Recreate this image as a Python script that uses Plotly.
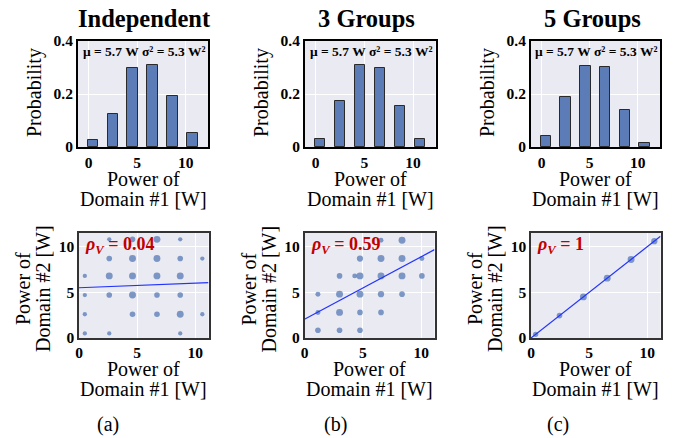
import plotly.graph_objects as go

# ---------------- data ----------------
panel_titles = ["Independent", "3 Groups", "5 Groups"]
panel_tags = ["(a)", "(b)", "(c)"]

bar_power = [0.45, 2.5, 4.55, 6.6, 8.65, 10.7]
prob_indep = [0.025, 0.123, 0.299, 0.309, 0.194, 0.052]
prob_3grp = [0.031, 0.175, 0.310, 0.299, 0.154, 0.031]
prob_5grp = [0.040, 0.187, 0.306, 0.301, 0.140, 0.016]
stats_text = "μ = 5.7 W σ² = 5.3 W²"

# joint samples (x = domain #1 power, y = domain #2 power, count = relative frequency)
a_x = [2.6, 4.6, 6.7, 8.7,
       2.6, 4.6, 6.7, 8.7, 10.6,
       0.5, 2.6, 4.6, 6.7, 8.7,
       0.5, 2.6, 4.6, 6.7, 8.7,
       0.5, 4.6, 6.7, 8.7, 10.6,
       0.5, 2.6, 8.7]
a_y = [10.8, 10.8, 10.8, 10.8,
       8.7, 8.7, 8.7, 8.7, 8.7,
       6.8, 6.8, 6.8, 6.8, 6.8,
       4.7, 4.7, 4.7, 4.7, 4.7,
       2.6, 2.6, 2.6, 2.6, 2.6,
       0.5, 0.5, 0.5]
a_count = [1, 2, 3, 1,
           2, 3, 3, 2, 1,
           1, 3, 3, 3, 3,
           1, 2, 3, 2, 2,
           1, 2, 2, 3, 1,
           1, 1, 1]

b_x = [6.55, 8.35,
       4.75, 6.55, 8.35, 10.05,
       3.0, 4.3, 4.75, 6.55, 8.35, 10.05,
       1.15, 3.0, 4.75, 6.55, 8.35,
       1.15, 3.0, 4.75, 6.55,
       1.15, 3.0, 4.75]
b_y = [10.7, 10.7,
       8.7, 8.7, 8.7, 8.7,
       6.8, 6.8, 6.8, 6.8, 6.8, 6.8,
       4.8, 4.8, 4.8, 4.8, 4.8,
       2.8, 2.8, 2.8, 2.8,
       0.85, 0.85, 0.85]
b_count = [1.5, 3,
           2.5, 3, 3, 1.5,
           2, 1.5, 3, 3, 3, 2,
           1.5, 3, 3, 2.5, 2,
           1.5, 3, 2, 2,
           2, 2, 2]

c_x = [0.4, 2.45, 4.5, 6.55, 8.6, 10.6]
c_y = [0.4, 2.45, 4.5, 6.55, 8.6, 10.6]
c_count = [1.8, 2, 3, 3, 3, 2.5]

rho_text = ["0.04", "0.59", "1"]
fit_intercept = [5.5, 2.05, 0.0]
fit_slope = [0.05, 0.685, 1.0]

# ---------------- layout helpers ----------------
W, H = 682, 438
def px(x):
    return x / W
def py(y):
    return 1 - y / H

FONT = "Liberation Serif, DejaVu Serif, serif"
BG = "#eaeaf2"
BAR = "#5b7cb7"
DOT = "#4c72b0"

top_cols = [(78, 208), (305, 435.5), (531, 660)]
bot_cols = [(79, 208.5), (304.5, 434.5), (531, 660.5)]
top_rows = (41, 147)
bot_rows = (232.5, 338)

fig = go.Figure()
layout = {}

probs = [prob_indep, prob_3grp, prob_5grp]
scat = [(a_x, a_y, a_count), (b_x, b_y, b_count), (c_x, c_y, c_count)]

x_rng_bot = [0, 11.13]
y_rng_bot = [0, 11.55]

tickfont = dict(family=FONT, size=15.5, color="black", weight="bold")
common = dict(showgrid=True, gridcolor="white", gridwidth=1, zeroline=False,
              showline=True, mirror=True, ticks="", ticklen=0, tickfont=tickfont,
              automargin=False)

for i in range(3):
    # top histogram axes
    k = 2 * i + 1
    sfx = str(k) if k > 1 else ""
    xa, ya, xr, yr = "xaxis" + sfx, "yaxis" + sfx, "x" + sfx, "y" + sfx
    l, r = top_cols[i]
    layout[xa] = dict(domain=[px(l), px(r)], anchor=yr, range=[-1.1, 12.3],
                      tickvals=[0, 5, 10], ticktext=["0", "5", "10"],
                      linecolor="black", linewidth=2, **common)
    layout[ya] = dict(domain=[py(top_rows[1]), py(top_rows[0])], anchor=xr, range=[0, 0.4],
                      tickvals=[0, 0.2, 0.4], ticktext=["0", "0.2", "0.4"],
                      linecolor="black", linewidth=2, **common)
    fig.add_trace(go.Bar(x=bar_power, y=probs[i], width=1.1, xaxis=xr, yaxis=yr,
                         marker=dict(color=BAR, line=dict(color="#2a2a2a", width=1))))

    # bottom scatter axes
    n = 2 * i + 2
    xa2, ya2, xr2, yr2 = f"xaxis{n}", f"yaxis{n}", f"x{n}", f"y{n}"
    l, r = bot_cols[i]
    layout[xa2] = dict(domain=[px(l), px(r)], anchor=yr2, range=x_rng_bot,
                       tickvals=[0, 5, 10], linecolor="#333333", linewidth=1.5, **common)
    layout[ya2] = dict(domain=[py(bot_rows[1]), py(bot_rows[0])], anchor=xr2, range=y_rng_bot,
                       tickvals=[0, 5, 10], linecolor="#333333", linewidth=1.5, **common)
    sx, sy, sc = scat[i]
    fig.add_trace(go.Scatter(x=sx, y=sy, mode="markers", xaxis=xr2, yaxis=yr2,
                             marker=dict(color=DOT, size=[3 + 1.3 * c for c in sc], line=dict(width=0))))
    lx = [x_rng_bot[0], x_rng_bot[1]]
    ly = [fit_intercept[i] + fit_slope[i] * v for v in lx]
    fig.add_trace(go.Scatter(x=lx, y=ly, mode="lines", xaxis=xr2, yaxis=yr2,
                             line=dict(color="#2233ff", width=1.2), cliponaxis=True))

annos = []
def txt(s, x, y, size, angle=0, weight="normal", color="black", anchor="center"):
    annos.append(dict(text=s, x=px(x), y=py(y), xref="paper", yref="paper",
                      showarrow=False, textangle=angle, xanchor=anchor, yanchor="middle",
                      font=dict(family=FONT, size=size, color=color, weight=weight)))

title_x = [144, 366, 592]
tag_x = [108, 335, 558]
for i in range(3):
    l, r = top_cols[i]
    cx = (l + r) / 2
    txt(panel_titles[i], title_x[i], 18.5, 24.5, weight="bold")
    txt(stats_text, cx + 1, 51.5, 13.5, weight="bold")
    txt("Probability", l - 43, 93, 20, angle=-90)
    txt("Power of", cx, 179, 20)
    txt("Domain #1 [W]", cx, 198.5, 20)
    bl, br = bot_cols[i]
    bcx = (bl + br) / 2
    txt("Power of", bcx, 368.5, 20)
    txt("Domain #1 [W]", bcx, 388.5, 20)
    txt("Power of", bl - 56, 289, 20, angle=-90)
    txt("Domain #2 [W]", bl - 36, 289, 20, angle=-90)
    txt("<i>ρ<sub>V</sub></i> = " + rho_text[i], bl + 4, 245, 18, weight="bold",
        color="#c00000", anchor="left")
    txt(panel_tags[i], tag_x[i], 424, 20)

fig.update_layout(width=W, height=H, margin=dict(l=0, r=0, t=0, b=0, pad=0, autoexpand=False),
                  paper_bgcolor="white", plot_bgcolor=BG, showlegend=False,
                  font=dict(family=FONT, color="black"), bargap=0, annotations=annos, **layout)

fig.write_html("out.html", config={"displayModeBar": False},
               post_script="document.body.style.margin='0';document.body.style.overflow='hidden';")
